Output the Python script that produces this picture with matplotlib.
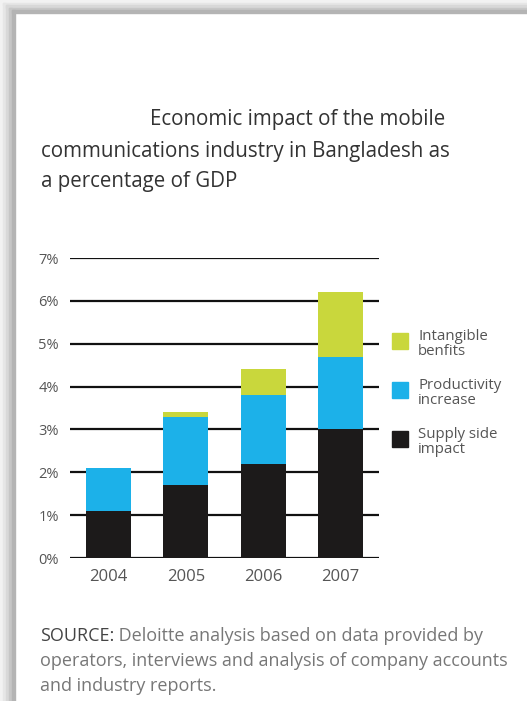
import matplotlib
matplotlib.use("Agg")
import matplotlib.pyplot as plt
from matplotlib.patches import Rectangle
import numpy as np

years = ["2004", "2005", "2006", "2007"]
supply_side = [1.1, 1.7, 2.2, 3.0]
productivity = [1.0, 1.6, 1.6, 1.7]
intangible = [0.0, 0.1, 0.6, 1.5]
y_ticks = [0, 1, 2, 3, 4, 5, 6, 7]

series_names = ["Intangible\nbenfits", "Productivity\nincrease", "Supply side\nimpact"]
c_yellow = "#c9d73c"
c_blue = "#1cb1e9"
c_black = "#1c1a1a"

plt.rcParams["font.family"] = ["Open Sans", "DejaVu Sans"]

W, H = 527, 701
fig = plt.figure(figsize=(W / 100, H / 100), dpi=100)
fig.patch.set_facecolor("white")

# grey frame / shadow at top and left
shades = ["#f2f2f2", "#e6e6e6", "#d8d8d8", "#c6c6c6", "#b4b4b4"]
for i, c in enumerate(shades):
    fig.patches.append(Rectangle((i * 3 / W, 0), 3 / W, 1 - (i * 2.5) / H,
                                 transform=fig.transFigure, color=c, zorder=0))
    fig.patches.append(Rectangle((i * 3 / W, 1 - (i + 1) * 2.6 / H), 1, 2.6 / H,
                                 transform=fig.transFigure, color=c, zorder=0))

ax = fig.add_axes([70 / W, (H - 558) / H, 309 / W, 300 / H])
ax.set_facecolor("none")
x = np.arange(len(years))
width = 0.58
s = np.array(supply_side)
p = np.array(productivity)
g = np.array(intangible)
ax.bar(x, s, width, color=c_black, zorder=3)
ax.bar(x, p, width, bottom=s, color=c_blue, zorder=3)
ax.bar(x, g, width, bottom=s + p, color=c_yellow, zorder=3)

for t in y_ticks:
    ax.axhline(t, color="#111111", lw=1.6, zorder=2)

ax.set_xlim(-0.5, 3.5)
ax.set_ylim(0, 7)
ax.set_yticks(y_ticks)
ax.set_yticklabels([f"{t}%" for t in y_ticks], fontsize=10.5, color="#555555")
ax.set_xticks(x)
ax.set_xticklabels(years, fontsize=12, color="#555555")
ax.tick_params(axis="both", length=0)
ax.tick_params(axis="y", pad=8)
ax.tick_params(axis="x", pad=8)
for sp in ax.spines.values():
    sp.set_visible(False)

# title
title_kw = dict(fontsize=14.8, color="#333333", va="center", ha="left")
fig.text(150 / W, 1 - 120 / H, "Economic impact of the mobile", **title_kw)
fig.text(41 / W, 1 - 151 / H, "communications industry in Bangladesh as", **title_kw)
fig.text(41 / W, 1 - 181 / H, "a percentage of GDP", **title_kw)

# legend
colors = [c_yellow, c_blue, c_black]
ys = [333, 382, 431]
for name, c, yy in zip(series_names, colors, ys):
    fig.patches.append(Rectangle((392 / W, 1 - (yy + 16) / H), 16 / W, 16 / H,
                                 transform=fig.transFigure, color=c))
    fig.text(418 / W, 1 - (yy - 4) / H, name, fontsize=10.8, color="#555555",
             va="top", ha="left", linespacing=1.0)

# source
src_kw = dict(fontsize=13, color="#777777", va="center", ha="left")
t = fig.text(40 / W, 1 - 636 / H, "SOURCE:", fontsize=13, color="#444444",
             va="center", ha="left")
ax.annotate(" Deloitte analysis based on data provided by", xy=(1, 0.5),
            xycoords=t, annotation_clip=False, **src_kw)
fig.text(40 / W, 1 - 661 / H, "operators, interviews and analysis of company accounts", **src_kw)
fig.text(40 / W, 1 - 686 / H, "and industry reports.", **src_kw)

fig.savefig("out.png", dpi=100, facecolor=fig.get_facecolor())
